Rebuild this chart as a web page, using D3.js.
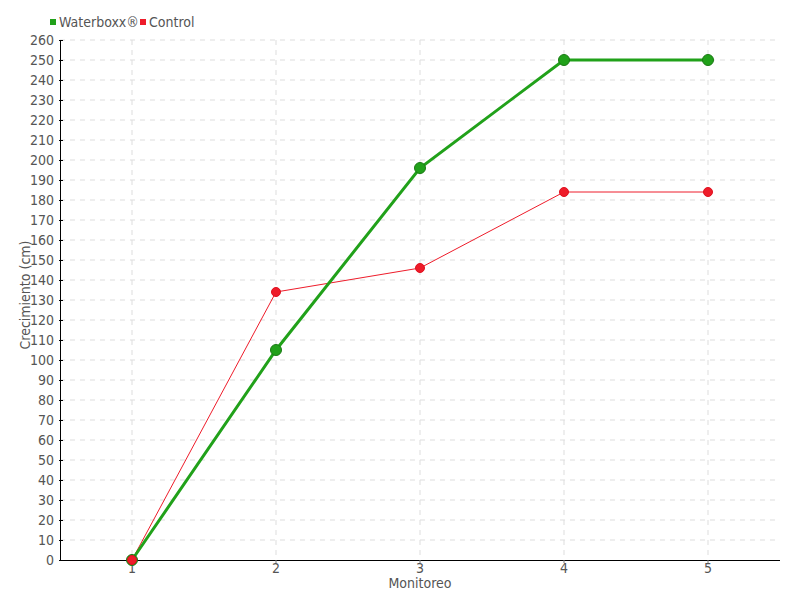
<!DOCTYPE html>
<html>
<head>
<meta charset="utf-8">
<script src="https://cdn.jsdelivr.net/npm/d3@7"></script>
<style>
  body { margin: 0; background: #fff; }
  text { font-family: "DejaVu Sans Condensed", "Liberation Sans Narrow", sans-serif; fill: #555; }
</style>
</head>
<body>
<div id="chart"></div>
<script>
// datos
const categories = ["1", "2", "3", "4", "5"];
const waterboxx = [0, 105, 196, 250, 250];
const control = [0, 134, 146, 184, 184];
const yTicks = d3.range(0, 261, 10);

const margin = { top: 40, right: 20, bottom: 40, left: 60 };
const width = 800 - margin.left - margin.right;
const height = 600 - margin.top - margin.bottom;

const svg = d3.select("#chart").append("svg")
  .attr("width", 800)
  .attr("height", 600);

const g = svg.append("g")
  .attr("transform", `translate(${margin.left},${margin.top})`);

const x = d3.scaleBand().domain(categories).range([0, width]);
const y = d3.scaleLinear().domain([0, 260]).range([height, 0]);
const cx = d => x(d) + x.bandwidth() / 2;

// rejilla
g.append("g").selectAll("line").data(yTicks.slice(1)).join("line")
  .attr("x1", 0).attr("x2", width)
  .attr("y1", d => y(d)).attr("y2", d => y(d))
  .attr("stroke", "#ddd").attr("stroke-dasharray", "5,5");
g.append("g").selectAll("line").data(categories).join("line")
  .attr("x1", d => cx(d)).attr("x2", d => cx(d))
  .attr("y1", 0).attr("y2", height)
  .attr("stroke", "#ddd").attr("stroke-dasharray", "5,5");

// ejes
const xAxis = g.append("g")
  .attr("transform", `translate(0,${height})`)
  .call(d3.axisBottom(x).tickSize(3).tickPadding(0));
xAxis.select(".domain").attr("stroke", "#000").attr("d", `M0,0.5H${width}`);
xAxis.selectAll(".tick line").attr("stroke", "#777");
xAxis.selectAll(".tick text").style("font-size", "14px").attr("fill", "#555");

const yAxis = g.append("g")
  .call(d3.axisLeft(y).tickValues(yTicks).tickSize(-3).tickPadding(6));
yAxis.select(".domain").attr("stroke", "#000").attr("d", `M0.5,0V${height}`);
yAxis.selectAll(".tick line").attr("stroke", "#000").attr("x2", 3).attr("x1", -1);
yAxis.selectAll(".tick text").style("font-size", "14px").attr("fill", "#555");

g.append("text")
  .attr("x", width / 2).attr("y", height + 27.5)
  .attr("text-anchor", "middle")
  .style("font-size", "14px")
  .text("Monitoreo");

g.append("text")
  .attr("transform", `translate(-30,${height / 2 - 5}) rotate(-90)`)
  .attr("text-anchor", "middle")
  .style("font-size", "14px")
  .text("Crecimiento (cm)");

// series
const series = [
  { name: "Control", values: control, color: "#ee1c2a", width: 1, r: 4.5, stroke: "#e0101e" },
  { name: "Waterboxx®", values: waterboxx, color: "#21a11a", width: 3, r: 5.5, stroke: "#1a7a14" }
];

const line = d3.line()
  .x((d, i) => cx(categories[i]))
  .y(d => y(d));

series.forEach(s => {
  g.append("path")
    .datum(s.values)
    .attr("fill", "none")
    .attr("stroke", s.color)
    .attr("stroke-width", s.width)
    .attr("d", line);
});

// puntos (verde primero, rojo encima en el 0)
[series[1], series[0]].forEach(s => {
  g.append("g").selectAll("circle").data(s.values).join("circle")
    .attr("cx", (d, i) => cx(categories[i]))
    .attr("cy", d => y(d))
    .attr("r", s.r)
    .attr("fill", s.color)
    .attr("stroke", s.stroke)
    .attr("stroke-width", 1);
});

// leyenda
const legendItems = [
  { name: "Waterboxx®", color: "#21a11a", x: 50 },
  { name: "Control", color: "#ee1c2a", x: 140 }
];
const legend = svg.append("g").selectAll("g").data(legendItems).join("g")
  .attr("transform", d => `translate(${d.x},0)`);
legend.append("rect")
  .attr("x", 0).attr("y", 19).attr("width", 6).attr("height", 6)
  .attr("fill", d => d.color);
legend.append("text")
  .attr("x", 9).attr("y", 27)
  .style("font-size", "14px")
  .text(d => d.name);
</script>
</body>
</html>
